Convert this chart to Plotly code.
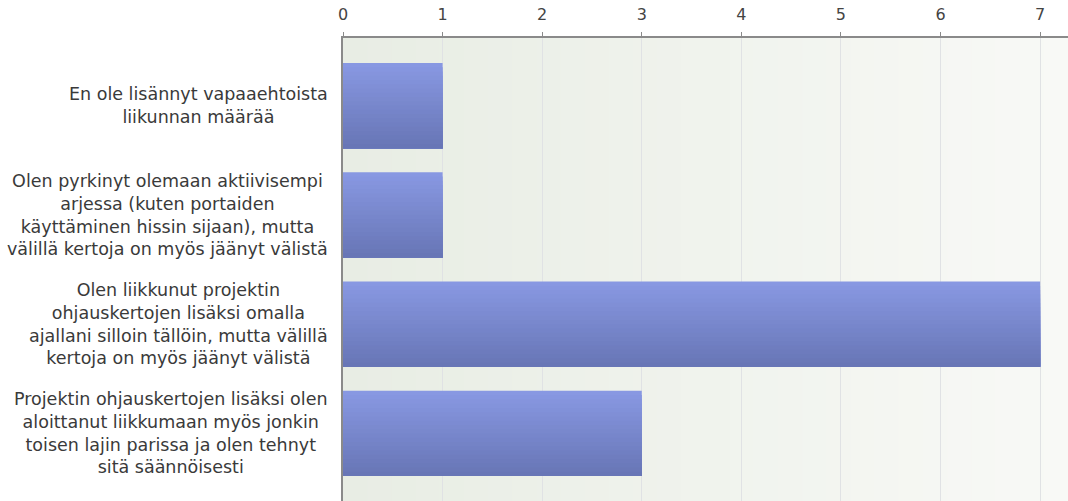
import plotly.graph_objects as go

labels = [
    "En ole lisännyt vapaaehtoista<br>liikunnan määrää",
    "Olen pyrkinyt olemaan aktiivisempi<br>arjessa (kuten portaiden<br>käyttäminen hissin sijaan), mutta<br>välillä kertoja on myös jäänyt välistä",
    "Olen liikkunut projektin<br>ohjauskertojen lisäksi omalla<br>ajallani silloin tällöin, mutta välillä<br>kertoja on myös jäänyt välistä",
    "Projektin ohjauskertojen lisäksi olen<br>aloittanut liikkumaan myös jonkin<br>toisen lajin parissa ja olen tehnyt<br>sitä säännöisesti",
]
counts = [1, 1, 7, 3]
positions = [0, 1, 2, 3]


def blend(c1, c2, t):
    return "rgb({},{},{})".format(*[round(a + (b - a) * t) for a, b in zip(c1, c2)])


fig = go.Figure()

# layered bars, each one starting a bit lower and darker -> vertical gradient
bar_w = 0.78
n_slices = 20
step = bar_w / n_slices
top_col = (136, 152, 226)
bot_col = (104, 118, 182)
for i in range(n_slices):
    fig.add_trace(
        go.Bar(
            x=counts,
            y=positions,
            orientation="h",
            width=bar_w - i * step,
            offset=-bar_w / 2 + i * step,
            marker=dict(color=blend(top_col, bot_col, i / (n_slices - 1)), line_width=0),
            hoverinfo="skip",
            showlegend=False,
        )
    )

# horizontal gradient on the plot background
shapes = []
n_bg = 30
for i in range(n_bg):
    shapes.append(
        dict(
            type="rect",
            xref="paper",
            yref="paper",
            x0=i / n_bg,
            x1=1,
            y0=0,
            y1=1,
            fillcolor=blend((232, 237, 228), (248, 249, 246), i / (n_bg - 1)),
            line_width=0,
            layer="below",
        )
    )

annotations = [
    dict(
        text=lab,
        x=0,
        y=p,
        xref="paper",
        yref="y",
        xanchor="right",
        yanchor="middle",
        xshift=-13,
        align="center",
        showarrow=False,
        font=dict(family="DejaVu Sans", size=17.5, color="#3a3a3a"),
    )
    for lab, p in zip(labels, positions)
]

fig.update_layout(
    width=1068,
    height=501,
    margin=dict(l=343, r=0, t=38, b=0),
    paper_bgcolor="white",
    plot_bgcolor="rgba(0,0,0,0)",
    barmode="overlay",
    shapes=shapes,
    annotations=annotations,
    font=dict(family="DejaVu Sans", color="#444444"),
)
fig.update_xaxes(
    side="top",
    range=[0, 7.28],
    dtick=1,
    tick0=0,
    showgrid=True,
    gridcolor="#e0e2e4",
    gridwidth=1,
    showline=True,
    linecolor="#8a8a8a",
    linewidth=2,
    ticks="outside",
    ticklen=4,
    tickcolor="#8a8a8a",
    tickfont=dict(size=16, color="#444444"),
    ticklabelstandoff=6,
    zeroline=False,
    fixedrange=True,
)
fig.update_yaxes(
    range=[3.618, -0.618],
    showticklabels=False,
    showgrid=False,
    showline=True,
    linecolor="#8a8a8a",
    linewidth=2,
    zeroline=False,
    fixedrange=True,
)

fig.write_html(
    "out.html",
    config={"displayModeBar": False},
    post_script="document.body.style.margin='0';",
)
